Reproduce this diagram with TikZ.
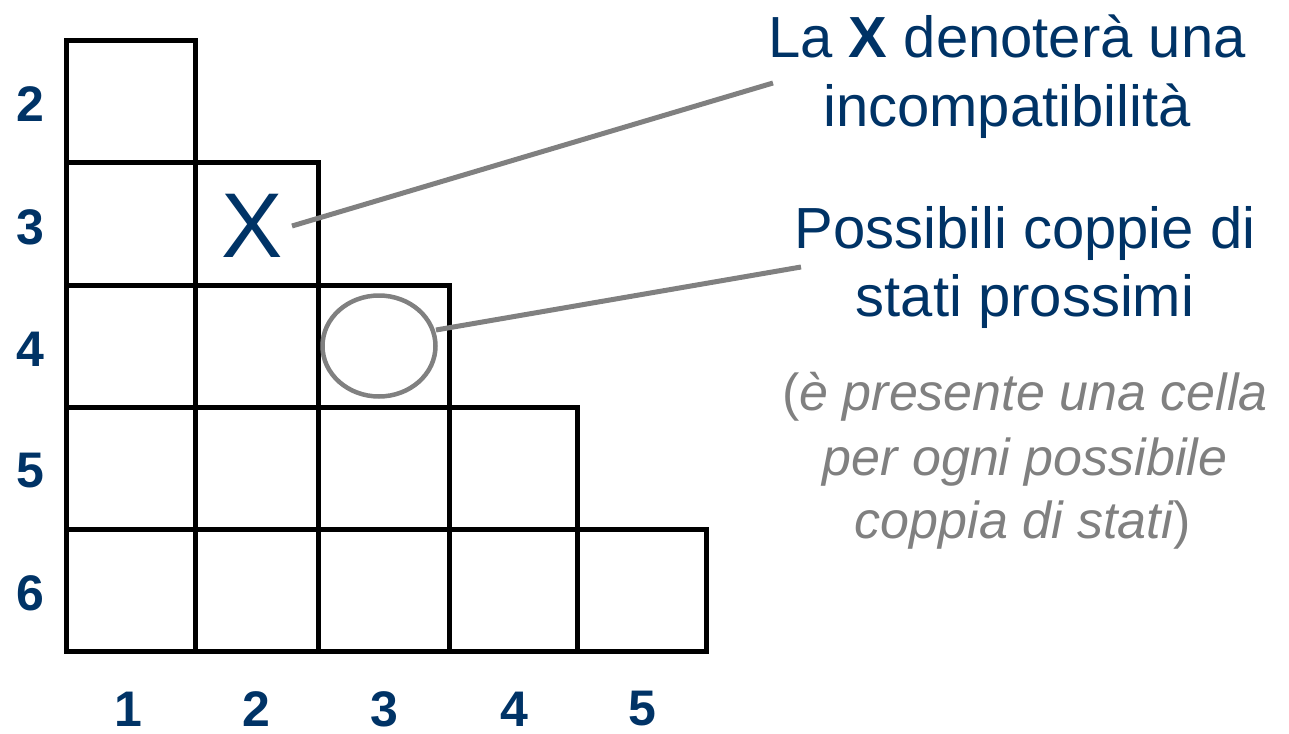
\documentclass[tikz,border=0pt]{standalone}
\usepackage{fontspec}
\setmainfont{Liberation Sans}
\usetikzlibrary{shapes.geometric}
\definecolor{navy}{RGB}{0,51,102}
\definecolor{midgray}{RGB}{128,128,128}
\begin{document}
\begin{tikzpicture}[x=1pt,y=-1pt,
  gridline/.style={line width=5pt, black},
  callout/.style={line width=5pt, midgray},
  axislabel/.style={text=navy, font=\fontsize{50}{60}\selectfont\bfseries, inner sep=0pt},
  bluetext/.style={text=navy, font=\fontsize{58}{68}\selectfont, inner sep=0pt, anchor=base},
  graytext/.style={text=midgray, font=\fontsize{52}{64}\selectfont, inner sep=0pt, anchor=base}]
\useasboundingbox (0,0) rectangle (1289,733);
% grid (staircase)
\draw[gridline] (66,41) rectangle (195,162);
\draw[gridline] (66,162) rectangle (195,285);
\draw[gridline] (195,162) rectangle (318,285);
\draw[gridline] (66,285) rectangle (195,407);
\draw[gridline] (195,285) rectangle (318,407);
\draw[gridline] (318,285) rectangle (449,407);
\draw[gridline] (66,407) rectangle (195,529);
\draw[gridline] (195,407) rectangle (318,529);
\draw[gridline] (318,407) rectangle (449,529);
\draw[gridline] (449,407) rectangle (577,529);
\draw[gridline] (66,529) rectangle (195,651);
\draw[gridline] (195,529) rectangle (318,651);
\draw[gridline] (318,529) rectangle (449,651);
\draw[gridline] (449,529) rectangle (577,651);
\draw[gridline] (577,529) rectangle (706,651);
% row labels
\node[axislabel] (r2) at (30,104) {2};
\node[axislabel] (r3) at (30,227) {3};
\node[axislabel] (r4) at (30,349) {4};
\node[axislabel] (r5) at (30,471) {5};
\node[axislabel] (r6) at (30,593) {6};
% column labels
\node[axislabel] (k1) at (128,709) {1};
\node[axislabel] (k2) at (256,709) {2};
\node[axislabel] (k3) at (384,709) {3};
\node[axislabel] (k4) at (514,709) {4};
\node[axislabel] (k5) at (642,709) {5};
% cell contents
\node[text=navy, font=\fontsize{92}{100}\selectfont, inner sep=0pt] (xmark) at (252,226) {X};
\node[ellipse, draw=midgray, line width=4.5pt, minimum width=113pt, minimum height=101pt, inner sep=0pt] (oval) at (379,346) {};
% annotation texts
\node[bluetext] (t1a) at (1007,58) {La \textbf{X} denoterà una};
\node[bluetext] (t1b) at (1007,126) {incompatibilità};
\node[bluetext] (t2a) at (1025,248) {Possibili coppie di};
\node[bluetext] (t2b) at (1025,316) {stati prossimi};
\node[graytext] (t3a) at (1025,410) {(\textit{è presente una cella}};
\node[graytext] (t3b) at (1025,475) {\textit{per ogni possibile}};
\node[graytext] (t3c) at (1023,538) {\textit{coppia di stati})};
% callouts
\coordinate (c1s) at (292,226);
\coordinate (c1e) at (773,83);
\coordinate (c2s) at (436,330);
\coordinate (c2e) at (801,267);
\draw[callout] (c1s) -- (c1e);
\draw[callout] (c2s) -- (c2e);
\end{tikzpicture}
\end{document}
